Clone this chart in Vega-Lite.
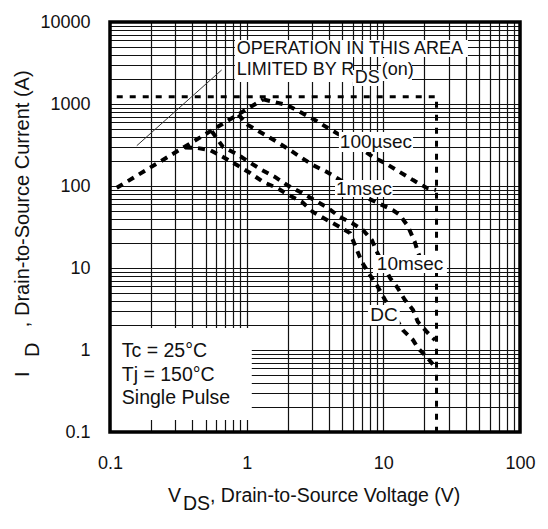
{
  "$schema": "https://vega.github.io/schema/vega-lite/v6.json",
  "width": 410,
  "height": 410,
  "autosize": {"type": "none"},
  "padding": {"left": 110, "top": 22, "right": 28, "bottom": 97},
  "background": "white",
  "config": {
    "view": {"stroke": null},
    "font": "Liberation Sans",
    "text": {"font": "Liberation Sans", "color": "#111"}
  },
  "datasets": {
    "limits": [
      {"v": 0.112, "i": 1230},
      {"v": 24.5, "i": 1230},
      {"v": 24.5, "i": 0.1}
    ],
    "curves": [
      {"s": "RDS", "v": 0.112, "i": 95},
      {"s": "RDS", "v": 1.32, "i": 1140},
      {"s": "100us", "v": 1.32, "i": 1140},
      {"s": "100us", "v": 1.97, "i": 972},
      {"s": "100us", "v": 2.54, "i": 776},
      {"s": "100us", "v": 3.16, "i": 638},
      {"s": "100us", "v": 3.93, "i": 509},
      {"s": "100us", "v": 5.7, "i": 354},
      {"s": "100us", "v": 8.4, "i": 226},
      {"s": "100us", "v": 10.3, "i": 190},
      {"s": "100us", "v": 13.2, "i": 148},
      {"s": "100us", "v": 16.5, "i": 118},
      {"s": "100us", "v": 20.8, "i": 94.6},
      {"s": "100us", "v": 24.3, "i": 89.3},
      {"s": "1ms", "v": 0.87, "i": 740},
      {"s": "1ms", "v": 1.02, "i": 555},
      {"s": "1ms", "v": 1.29, "i": 443},
      {"s": "1ms", "v": 1.67, "i": 344},
      {"s": "1ms", "v": 2.07, "i": 275},
      {"s": "1ms", "v": 2.54, "i": 219},
      {"s": "1ms", "v": 3.05, "i": 180},
      {"s": "1ms", "v": 3.87, "i": 148},
      {"s": "1ms", "v": 5.24, "i": 109},
      {"s": "1ms", "v": 7.59, "i": 71.5},
      {"s": "1ms", "v": 9.13, "i": 62.1},
      {"s": "1ms", "v": 11.7, "i": 50.9},
      {"s": "1ms", "v": 13.2, "i": 44.3},
      {"s": "1ms", "v": 15.1, "i": 32.5},
      {"s": "1ms", "v": 17.0, "i": 20.7},
      {"s": "1ms", "v": 17.9, "i": 15.7},
      {"s": "1ms", "v": 19.1, "i": 11.8},
      {"s": "10ms", "v": 0.555, "i": 465},
      {"s": "10ms", "v": 0.671, "i": 299},
      {"s": "10ms", "v": 0.849, "i": 245},
      {"s": "10ms", "v": 1.04, "i": 196},
      {"s": "10ms", "v": 1.29, "i": 157},
      {"s": "10ms", "v": 1.61, "i": 129},
      {"s": "10ms", "v": 1.97, "i": 103},
      {"s": "10ms", "v": 2.54, "i": 82.2},
      {"s": "10ms", "v": 3.93, "i": 54.0},
      {"s": "10ms", "v": 4.81, "i": 41.9},
      {"s": "10ms", "v": 5.89, "i": 35.4},
      {"s": "10ms", "v": 7.09, "i": 29.1},
      {"s": "10ms", "v": 8.25, "i": 21.9},
      {"s": "10ms", "v": 8.83, "i": 16.6},
      {"s": "10ms", "v": 11.2, "i": 7.55},
      {"s": "10ms", "v": 12.6, "i": 5.86},
      {"s": "10ms", "v": 14.4, "i": 4.07},
      {"s": "10ms", "v": 16.5, "i": 3.08},
      {"s": "10ms", "v": 17.9, "i": 2.2},
      {"s": "10ms", "v": 21.2, "i": 1.61},
      {"s": "10ms", "v": 23.9, "i": 1.32},
      {"s": "DC", "v": 0.354, "i": 295},
      {"s": "DC", "v": 0.433, "i": 291},
      {"s": "DC", "v": 0.539, "i": 275},
      {"s": "DC", "v": 0.671, "i": 226},
      {"s": "DC", "v": 0.849, "i": 180},
      {"s": "DC", "v": 1.06, "i": 144},
      {"s": "DC", "v": 1.32, "i": 112},
      {"s": "DC", "v": 1.67, "i": 94.6},
      {"s": "DC", "v": 1.97, "i": 80},
      {"s": "DC", "v": 2.54, "i": 63.8},
      {"s": "DC", "v": 3.05, "i": 48.2},
      {"s": "DC", "v": 3.87, "i": 38.5},
      {"s": "DC", "v": 4.81, "i": 31.6},
      {"s": "DC", "v": 5.7, "i": 26.7},
      {"s": "DC", "v": 6.19, "i": 19.1},
      {"s": "DC", "v": 6.97, "i": 11.8},
      {"s": "DC", "v": 7.98, "i": 8.21},
      {"s": "DC", "v": 9.13, "i": 5.86},
      {"s": "DC", "v": 10.3, "i": 4.07},
      {"s": "DC", "v": 13.9, "i": 1.75},
      {"s": "DC", "v": 16.5, "i": 1.32},
      {"s": "DC", "v": 17.9, "i": 1.06},
      {"s": "DC", "v": 20.8, "i": 0.822},
      {"s": "DC", "v": 23.9, "i": 0.621}
    ],
    "pointer": [
      {"v": 0.157, "i": 310},
      {"v": 0.656, "i": 2600}
    ],
    "boxes": [
      {"v": 0.821, "v2": 41.6, "i": 3741, "i2": 6026},
      {"v": 0.821, "v2": 5.99, "i": 1854, "i2": 3741},
      {"v": 5.99, "v2": 9.61, "i": 1658, "i2": 2598},
      {"v": 9.61, "v2": 16.2, "i": 1908, "i2": 3640},
      {"v": 4.73, "v2": 16.5, "i": 260, "i2": 455},
      {"v": 4.43, "v2": 11.7, "i": 73.5, "i2": 118},
      {"v": 8.4, "v2": 29.2, "i": 8.69, "i2": 14.4},
      {"v": 7.72, "v2": 13.2, "i": 2.02, "i2": 3.54},
      {"v": 0.1, "v2": 1.09, "i": 0.14, "i2": 1.85}
    ],
    "curveLabels": [
      {"t": "100µsec", "v": 8.83, "i": 344},
      {"t": "1msec", "v": 7.21, "i": 93.2},
      {"t": "10msec", "v": 15.7, "i": 11.2},
      {"t": "DC", "v": 10.1, "i": 2.67}
    ],
    "notes": [
      {"t": "OPERATION IN THIS AREA", "v": 0.845, "i": 4688},
      {"t": "LIMITED BY R", "v": 0.845, "i": 2598},
      {"t": "DS", "v": 6.19, "i": 2104},
      {"t": "(on)", "v": 9.72, "i": 2598}
    ],
    "legend": [
      {"t": "Tc = 25°C", "v": 0.122, "i": 0.959},
      {"t": "Tj = 150°C", "v": 0.122, "i": 0.496},
      {"t": "Single Pulse", "v": 0.122, "i": 0.26}
    ],
    "xTitle": [
      {"t": "V", "v": 0.2656, "i": 0.01658},
      {"t": "DS", "v": 0.342, "i": 0.01324},
      {"t": ", Drain-to-Source Voltage (V)", "v": 0.539, "i": 0.01658}
    ],
    "yTitle": [
      {"t": "I", "v": 0.0229, "i": 0.469},
      {"t": "D", "v": 0.0271, "i": 0.822},
      {"t": ", Drain-to-Source Current (A)", "v": 0.0229, "i": 1.9}
    ],
    "frame": [
      {"v": 0.1, "v2": 100, "i": 0.1, "i2": 10000}
    ]
  },
  "encoding": {
    "x": {
      "field": "v",
      "type": "quantitative",
      "scale": {"type": "log", "domain": [0.1, 100], "nice": false, "zero": false},
      "axis": {
        "values": [0.1, 0.2, 0.3, 0.4, 0.5, 0.6, 0.7, 0.8, 0.9, 1, 2, 3, 4, 5, 6, 7, 8, 9, 10, 20, 30, 40, 50, 60, 70, 80, 90, 100],
        "grid": true,
        "gridColor": "#111",
        "gridWidth": 1.2,
        "gridOpacity": 1,
        "ticks": false,
        "tickSize": 0,
        "domain": false,
        "title": null,
        "labelExpr": "abs(log(datum.value)/LN10 - round(log(datum.value)/LN10)) < 0.01 ? format(datum.value, '~g') : ''",
        "labelFont": "Liberation Sans",
        "labelFontSize": 18,
        "labelColor": "#111",
        "labelPadding": 22,
        "labelOverlap": false,
        "labelFlush": false,
        "labelBound": false
      }
    },
    "y": {
      "field": "i",
      "type": "quantitative",
      "scale": {"type": "log", "domain": [0.1, 10000], "nice": false, "zero": false},
      "axis": {
        "values": [0.1, 0.2, 0.3, 0.4, 0.5, 0.6, 0.7, 0.8, 0.9, 1, 2, 3, 4, 5, 6, 7, 8, 9, 10, 20, 30, 40, 50, 60, 70, 80, 90, 100, 200, 300, 400, 500, 600, 700, 800, 900, 1000, 2000, 3000, 4000, 5000, 6000, 7000, 8000, 9000, 10000],
        "grid": true,
        "gridColor": "#111",
        "gridWidth": 1.2,
        "gridOpacity": 1,
        "ticks": false,
        "tickSize": 0,
        "domain": false,
        "title": null,
        "labelExpr": "abs(log(datum.value)/LN10 - round(log(datum.value)/LN10)) < 0.01 ? format(datum.value, '~g') : ''",
        "labelFont": "Liberation Sans",
        "labelFontSize": 18,
        "labelColor": "#111",
        "labelPadding": 20,
        "labelOverlap": false,
        "labelFlush": false,
        "labelBound": false
      }
    }
  },
  "layer": [
    {
      "data": {"name": "limits"},
      "mark": {"type": "line", "color": "#000", "strokeWidth": 3, "strokeDash": [6, 7]},
      "encoding": {"order": {"value": null}}
    },
    {
      "data": {"name": "curves"},
      "mark": {"type": "line", "color": "#000", "strokeWidth": 4, "strokeDash": [7, 6]},
      "encoding": {"detail": {"field": "s", "type": "nominal"}, "order": {"value": null}}
    },
    {
      "data": {"name": "pointer"},
      "mark": {"type": "line", "color": "#333", "strokeWidth": 1},
      "encoding": {"order": {"value": null}}
    },
    {
      "data": {"name": "boxes"},
      "mark": {"type": "rect", "fill": "white", "stroke": null},
      "encoding": {"x2": {"field": "v2"}, "y2": {"field": "i2"}}
    },
    {
      "data": {"name": "curveLabels"},
      "mark": {"type": "text", "fontSize": 19, "align": "center", "baseline": "middle"},
      "encoding": {"text": {"field": "t"}}
    },
    {
      "data": {"name": "notes"},
      "mark": {"type": "text", "fontSize": 18, "align": "left", "baseline": "middle"},
      "encoding": {"text": {"field": "t"}}
    },
    {
      "data": {"name": "legend"},
      "mark": {"type": "text", "fontSize": 19.5, "align": "left", "baseline": "middle"},
      "encoding": {"text": {"field": "t"}}
    },
    {
      "data": {"name": "xTitle"},
      "mark": {"type": "text", "fontSize": 19.5, "align": "left", "baseline": "middle"},
      "encoding": {"text": {"field": "t"}}
    },
    {
      "data": {"name": "yTitle"},
      "mark": {"type": "text", "fontSize": 20, "align": "left", "baseline": "middle", "angle": 270},
      "encoding": {"text": {"field": "t"}}
    },
    {
      "data": {"name": "frame"},
      "mark": {"type": "rect", "fill": null, "stroke": "#000", "strokeWidth": 3.5},
      "encoding": {"x2": {"field": "v2"}, "y2": {"field": "i2"}}
    }
  ]
}
